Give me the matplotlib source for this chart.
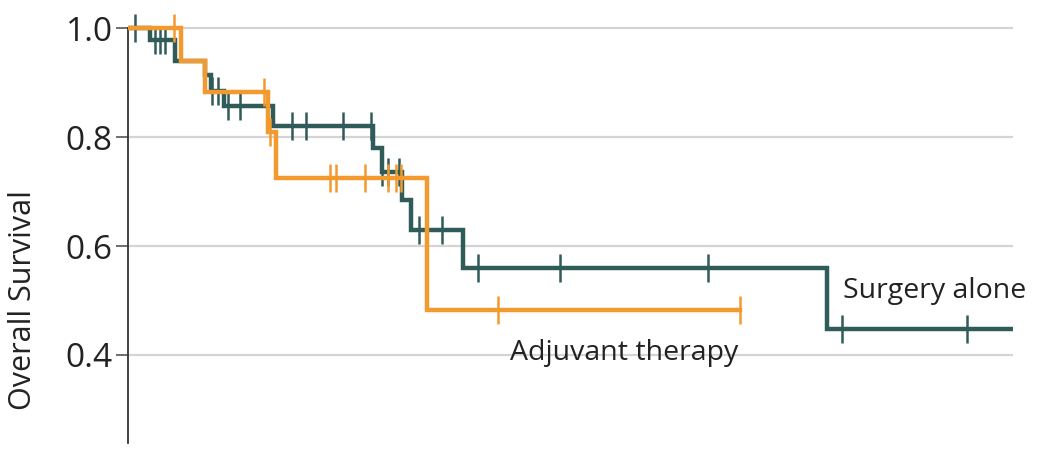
import matplotlib
matplotlib.use("Agg")
import matplotlib.pyplot as plt
import numpy as np

plt.rcParams['font.family'] = ['Open Sans', 'DejaVu Sans']

# Kaplan-Meier steps (time in months, survival after each event)
surgery_times = [0, 1.5, 3.2, 5.2, 5.6, 6.5, 9.8, 16.6, 17.2, 18.6, 19.2, 22.7, 47.4]
surgery_surv = [1.0, 0.978, 0.94, 0.914, 0.885, 0.857, 0.82, 0.78, 0.736, 0.684, 0.629, 0.56, 0.448]
surgery_end = 60.0
surgery_cens_t = [0.5, 1.8, 2.2, 2.5, 5.7, 6.1, 6.8, 7.6, 11.1, 12.1, 14.6, 16.5,
                  17.2, 17.6, 18.4, 19.7, 21.3, 23.7, 29.3, 39.3, 48.4, 56.9]

adjuvant_times = [0, 3.6, 5.2, 9.5, 10.0, 20.3]
adjuvant_surv = [1.0, 0.94, 0.883, 0.81, 0.725, 0.483]
adjuvant_end = 41.5
adjuvant_cens_t = [3.1, 9.2, 9.6, 13.7, 14.1, 16.1, 17.6, 18.2, 18.5, 25.1, 41.5]

teal = '#2f5b58'
orange = '#f29a2e'


def surv_at(times, surv, t):
    idx = np.searchsorted(times, t, side='right') - 1
    return np.array(surv)[idx]


fig = plt.figure(figsize=(10.39, 4.55), dpi=100)
ax = fig.add_axes([0.1232, 0.0, 0.8518, 1.0])

for y in [0.4, 0.6, 0.8, 1.0]:
    ax.axhline(y, color='#d4d4d4', lw=1.6, zorder=0)

curves = [
    (surgery_times, surgery_surv, surgery_end, surgery_cens_t, teal, 2),
    (adjuvant_times, adjuvant_surv, adjuvant_end, adjuvant_cens_t, orange, 3),
]
for times, surv, end, cens, color, z in curves:
    xs = list(times) + [end]
    ys = list(surv) + [surv[-1]]
    ax.step(xs, ys, where='post', color=color, lw=3.2, zorder=z,
            solid_joinstyle='miter')
    ax.plot(cens, surv_at(times, surv, cens), ls='none', marker='|',
            ms=20, mew=1.8, color=color, zorder=z)

ax.text(48.5, 0.518, 'Surgery alone', fontsize=20.5, color='#222222',
        va='center', ha='left')
ax.text(41.4, 0.404, 'Adjuvant therapy', fontsize=20.5, color='#222222',
        va='center', ha='right')

ax.set_xlim(0, 60)
ax.set_ylim(0.2165, 1.0514)
ax.set_yticks([0.4, 0.6, 0.8, 1.0])
ax.set_yticklabels(['0.4', '0.6', '0.8', '1.0'])
ax.tick_params(axis='y', length=9, width=1.2, color='#555555', labelsize=24,
               labelcolor='#222222', pad=2)
ax.set_xticks([])
for side in ['top', 'right', 'bottom']:
    ax.spines[side].set_visible(False)
ax.spines['left'].set_bounds(0.2385, 1.0)
ax.spines['left'].set_color('#333333')
ax.spines['left'].set_linewidth(1.3)
ax.set_ylabel('Overall Survival', fontsize=22, color='#222222')
ax.yaxis.set_label_coords(-0.102, 0.34)

fig.savefig('out.png', dpi=100, facecolor='white')
